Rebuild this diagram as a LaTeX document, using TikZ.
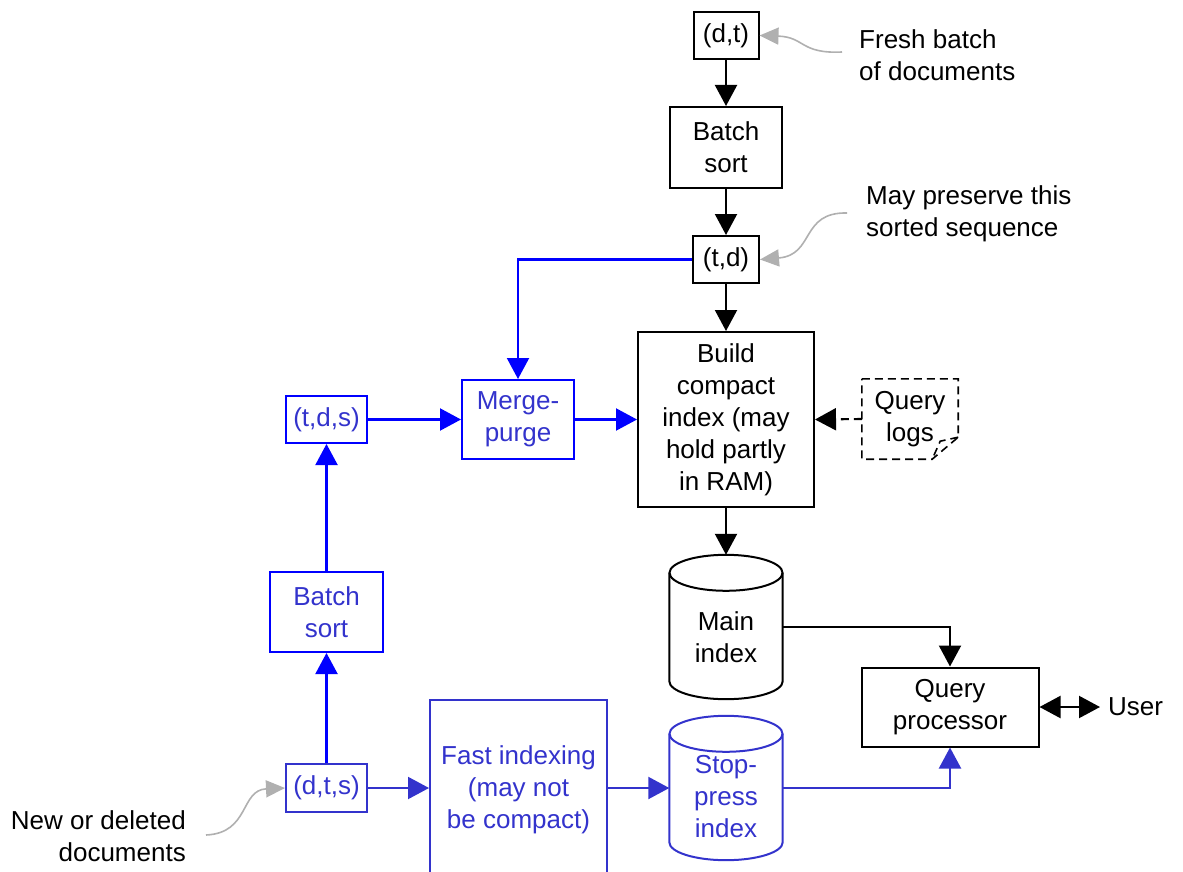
\documentclass[tikz,border=0pt]{standalone}
\usepackage{fontspec}
\setmainfont{Liberation Sans}
\usetikzlibrary{arrows.meta}

\definecolor{pureblue}{RGB}{0,0,255}
\definecolor{softblue}{RGB}{51,51,204}
\definecolor{notegrey}{RGB}{176,176,176}

% Outline of a disk drum around a named (undrawn) node: #1 node, #2 colour
\newcommand\drumoutline[2]{%
  \draw[#2, line width=2pt]
    ([yshift=-18pt]#1.north west) -- ([yshift=18pt]#1.south west)
    .. controls ([yshift=8pt]#1.south west) and ([xshift=-31.2pt]#1.south) .. (#1.south)
    .. controls ([xshift=31.2pt]#1.south) and ([yshift=8pt]#1.south east) .. ([yshift=18pt]#1.south east)
    -- ([yshift=-18pt]#1.north east);
  \draw[#2, line width=2pt] ([yshift=-18pt]#1.north) ellipse [x radius=56.5pt, y radius=18pt];
}

\begin{document}
\begin{tikzpicture}[x=1pt, y=-1pt,
  font=\fontsize{26}{32}\selectfont,
  box/.style={draw, line width=2pt, align=center, inner sep=0pt},
  bbox/.style={box, draw=pureblue, text=softblue},
  sbox/.style={box, draw=softblue, text=softblue},
  drum/.style={align=center, inner sep=0pt, minimum width=113pt, minimum height=144pt},
  flow/.style={line width=2.1pt, -{Triangle[length=21pt,width=22pt]}},
  note/.style={notegrey, line width=1.6pt, -{Triangle[length=19pt,width=17pt]}},
  plain/.style={inner sep=0pt}]

\clip (0,0) rectangle (1183,872);

% main (batch) path
\node[box, minimum width=65pt, minimum height=47pt] (dt) at (726,35.5) {(d,t)};
\node[box, minimum width=112pt, minimum height=81pt] (bsort) at (726,147.5) {Batch\\sort};
\node[box, minimum width=66pt, minimum height=47pt] (td) at (726,259.5) {(t,d)};
\node[box, minimum width=176pt, minimum height=175pt] (build) at (726,419.5)
  {Build\\compact\\index (may\\hold partly\\in RAM)};
\node[drum] (main) at (726,627) {};
\node[plain, align=center] (maintext) at (726,637) {Main\\index};
\drumoutline{main}{black}
\node[box, minimum width=177pt, minimum height=79pt] (qp) at (950,707) {Query\\processor};
\node[plain, anchor=west, inner xsep=8pt] (user) at (1100,707) {User};

% query logs (folded sheet)
\node[align=center, inner sep=0pt, minimum width=96pt, minimum height=80pt] (ql) at (910,419) {Query\\logs};
\draw[line width=1.6pt, dash pattern=on 8pt off 5pt]
  (ql.north west) -- (ql.north east) -- ([yshift=22pt]ql.south east)
  -- ([xshift=-26pt]ql.south east) -- (ql.south west) -- cycle;
\draw[line width=1.6pt, dash pattern=on 8pt off 5pt]
  ([yshift=22pt]ql.south east) -- ([xshift=-18pt,yshift=18pt]ql.south east)
  -- ([xshift=-26pt]ql.south east);

% incremental path
\node[bbox, minimum width=81pt, minimum height=47pt] (tds) at (326.5,419.5) {(t,d,s)};
\node[bbox, minimum width=112pt, minimum height=79pt] (merge) at (518,419.5) {Merge-\\purge};
\node[bbox, minimum width=113pt, minimum height=80pt] (bsort2) at (326.5,612) {Batch\\sort};
\node[sbox, minimum width=81pt, minimum height=48pt] (dts) at (326.5,788) {(d,t,s)};
\node[sbox, minimum width=177pt, minimum height=180pt] (fast) at (518.5,790)
  {Fast indexing\\(may not\\be compact)};
\node[drum] (stop) at (726,788) {};
\node[plain, align=center, text=softblue] (stoptext) at (726,797) {Stop-\\press\\index};
\drumoutline{stop}{softblue}

% side notes
\node[plain, align=left, anchor=west] (freshtext) at (859,55) {Fresh batch\\of documents};
\node[plain, align=left, anchor=west] (keeptext) at (866,214) {May preserve this\\sorted sequence};
\node[plain, align=right, anchor=east] (newtext) at (186,836) {New or deleted\\documents};
\coordinate (fresh) at (842,52);
\coordinate (keep) at (847,213);
\coordinate (newdocs) at (206,835);
\draw[note] (fresh) .. controls (800,54) and (805,37) .. (dt.east);
\draw[note] (keep) .. controls (800,212) and (815,255) .. (td.east);
\draw[note] (newdocs) .. controls (250,833) and (240,790) .. (dts.west);

% black connectors
\draw[flow] (dt) -- (bsort);
\draw[flow] (bsort) -- (td);
\draw[flow] (td) -- (build);
\draw[flow] (build) -- (main);
\draw[flow] (main.east) -| (qp.north);
\draw[flow, dash pattern=on 8pt off 5pt] (ql.west) -- (build.east);
\draw[line width=2.1pt, {Triangle[length=21pt,width=22pt]}-{Triangle[length=21pt,width=22pt]}] (qp.east) -- (user.west);

% blue connectors
\draw[flow, pureblue] (td.west) -| (merge.north);
\draw[flow, pureblue] (tds) -- (merge);
\draw[flow, pureblue] (merge) -- (build);
\draw[flow, pureblue] (dts) -- (bsort2);
\draw[flow, pureblue] (bsort2) -- (tds);
\draw[flow, softblue] (dts.east) -- (dts.east -| fast.west);
\draw[flow, softblue] (fast.east |- stop.west) -- (stop.west);
\draw[flow, softblue] (stop.east) -| (qp.south);
\end{tikzpicture}
\end{document}
